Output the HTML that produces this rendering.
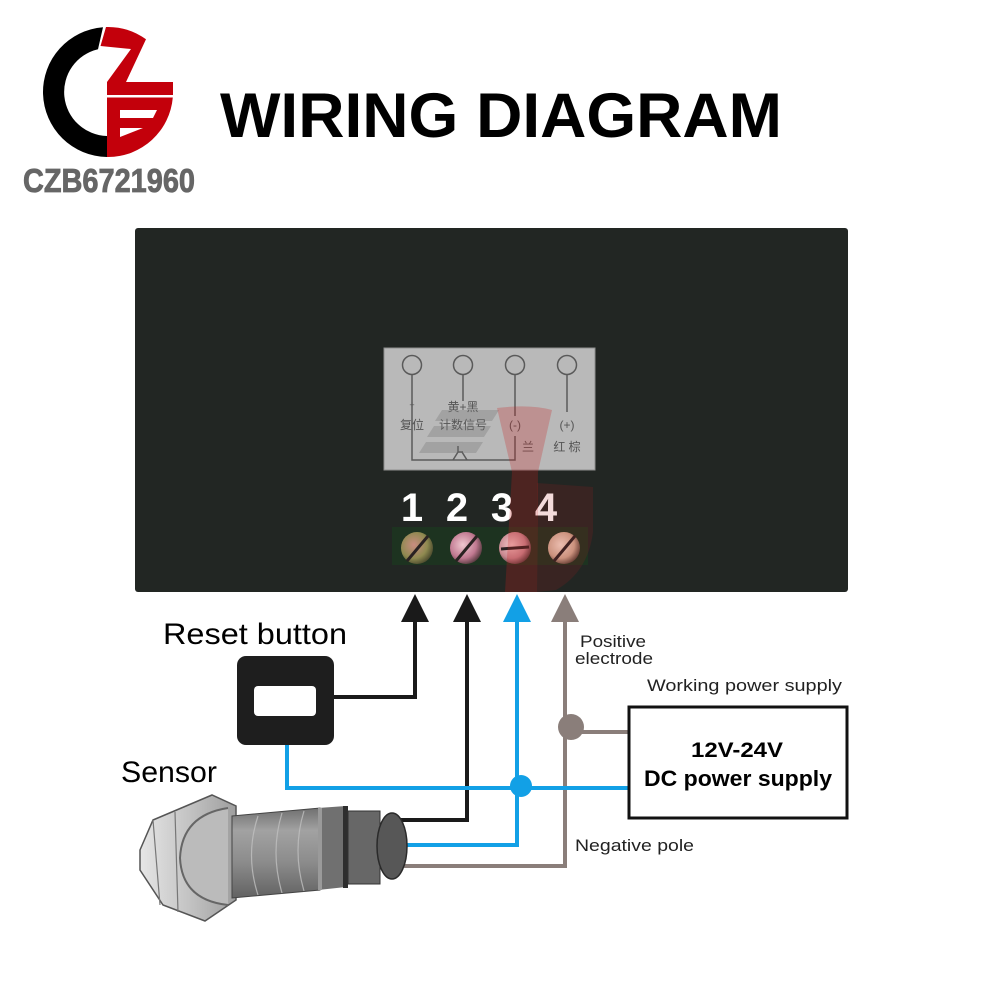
<!DOCTYPE html>
<html>
<head>
<meta charset="utf-8">
<style>
html,body{margin:0;padding:0;background:#fff;}
svg{display:block;}
text{font-family:"Liberation Sans","Noto Sans CJK SC",sans-serif;}
</style>
</head>
<body>
<svg width="1000" height="1000" viewBox="0 0 1000 1000" xmlns="http://www.w3.org/2000/svg">
<defs>
  <linearGradient id="body" x1="0" y1="0" x2="0" y2="1">
    <stop offset="0" stop-color="#707070"/>
    <stop offset="0.25" stop-color="#a2a2a2"/>
    <stop offset="0.6" stop-color="#8c8c8c"/>
    <stop offset="1" stop-color="#626262"/>
  </linearGradient>
  <linearGradient id="nut" x1="0" y1="0" x2="1" y2="0">
    <stop offset="0" stop-color="#e6e6e6"/>
    <stop offset="0.5" stop-color="#c4c4c4"/>
    <stop offset="1" stop-color="#9e9e9e"/>
  </linearGradient>
  <radialGradient id="s1" cx="0.4" cy="0.4" r="0.7">
    <stop offset="0" stop-color="#c98c80"/><stop offset="0.6" stop-color="#8f8a50"/><stop offset="1" stop-color="#3a3a25"/>
  </radialGradient>
  <radialGradient id="s2" cx="0.4" cy="0.4" r="0.7">
    <stop offset="0" stop-color="#f0c8d0"/><stop offset="0.6" stop-color="#c07890"/><stop offset="1" stop-color="#3a2a2a"/>
  </radialGradient>
  <radialGradient id="s3" cx="0.4" cy="0.4" r="0.7">
    <stop offset="0" stop-color="#f4c8c8"/><stop offset="0.6" stop-color="#c88890"/><stop offset="1" stop-color="#3a2a2a"/>
  </radialGradient>
  <radialGradient id="s4" cx="0.4" cy="0.4" r="0.7">
    <stop offset="0" stop-color="#f6dccc"/><stop offset="0.6" stop-color="#d0a890"/><stop offset="1" stop-color="#3a2a22"/>
  </radialGradient>
</defs>

<rect width="1000" height="1000" fill="#fff"/>

<!-- Logo -->
<path d="M103,27.2 A65,65 0 0 0 107,157 L107,136 A44,44 0 0 1 98,49.2 Z" fill="#000"/>
<path d="M106,27 A65,65 0 0 1 146,39.3 L126,82 L107,82 L131,49 L100.5,46 Z" fill="#c3000b"/>
<rect x="107" y="82" width="66" height="13" fill="#c3000b"/>
<path d="M107,97.5 L172.8,97.5 A65,65 0 0 1 108,157 L107,157 Z" fill="#c3000b"/>
<polygon points="120,110 157,110 153,118 120,118" fill="#fff"/>
<polygon points="120,128 143,128 120,137" fill="#fff"/>
<text x="23" y="192" font-size="33" font-weight="bold" fill="#666" stroke="#666" stroke-width="0.8" textLength="172" lengthAdjust="spacingAndGlyphs">CZB6721960</text>

<!-- Title -->
<text x="220" y="137" font-size="63" font-weight="bold" fill="#000" textLength="562" lengthAdjust="spacingAndGlyphs">WIRING DIAGRAM</text>

<!-- Panel -->
<rect x="135" y="228" width="713" height="364" rx="3" fill="#222623"/>

<!-- Grey label -->
<rect x="384" y="348" width="211" height="122" fill="#b9b9b9" stroke="#8e8e8e" stroke-width="1"/>
<g stroke="#5a5a5a" stroke-width="1.5" fill="none">
  <circle cx="412" cy="365" r="9.5"/>
  <circle cx="463" cy="365" r="9.5"/>
  <circle cx="515" cy="365" r="9.5"/>
  <circle cx="567" cy="365" r="9.5"/>
  <path d="M412,374.5 V460 H515 V436"/>
  <path d="M463,374.5 V401"/>
  <path d="M515,374.5 V416"/>
  <path d="M567,374.5 V412"/>
  <path d="M453,460 L458,452 M462,452 L467,460 M458,446 V452 H463"/>
</g>
<g fill="#555" font-size="12" text-anchor="middle">
  <text x="412" y="408" font-size="9">+</text>
  <text x="463" y="411">黄+黑</text>
  <text x="412" y="429">复位</text>
  <text x="463" y="429">计数信号</text>
  <text x="515" y="429">(-)</text>
  <text x="567" y="429">(+)</text>
  <text x="528" y="451">兰</text>
  <text x="567" y="451">红 棕</text>
</g>
<!-- watermark stripes -->
<g fill="rgba(110,110,110,0.3)">
  <polygon points="442,410 499,410 492,421 435,421"/>
  <polygon points="434,426 491,426 484,437 427,437"/>
  <polygon points="426,442 483,442 476,453 419,453"/>
</g>

<!-- Numbers -->
<g fill="#fff" font-size="40" font-weight="bold" text-anchor="middle">
  <text x="412" y="521">1</text>
  <text x="457" y="521">2</text>
  <text x="502" y="521">3</text>
  <text x="546" y="521">4</text>
</g>

<!-- Terminal block -->
<rect x="392" y="527" width="196" height="38" fill="#1d3320"/>
<circle cx="417" cy="548" r="16" fill="url(#s1)"/>
<circle cx="466" cy="548" r="16" fill="url(#s2)"/>
<circle cx="515" cy="548" r="16" fill="url(#s3)"/>
<circle cx="564" cy="548" r="16" fill="url(#s4)"/>
<g stroke="#2a2222" stroke-width="3">
  <line x1="407" y1="561" x2="428" y2="536"/>
  <line x1="456" y1="561" x2="477" y2="536"/>
  <line x1="501" y1="549" x2="529" y2="547"/>
  <line x1="554" y1="561" x2="575" y2="536"/>
</g>

<!-- red watermark -->
<path d="M497,408 Q530,404 552,410 L538,472 L537,592 L505,592 L512,472 Z" fill="rgba(200,30,30,0.26)"/>
<path d="M537,483 L593,487 L593,532 Q588,572 556,590 L537,592 Z" fill="rgba(180,30,30,0.16)"/>

<!-- Arrows & wires -->
<g stroke-width="4" fill="none" stroke-linejoin="miter">
  <path d="M415,618 V697 H334" stroke="#1a1a1a"/>
  <path d="M467,618 V820 H400" stroke="#1a1a1a"/>
  <path d="M517,618 V845 H405" stroke="#12a0e6"/>
  <path d="M565,618 V866 H398" stroke="#8a7e7a"/>
  <path d="M287,745 V788 H629" stroke="#12a0e6"/>
  <path d="M565,732 H629" stroke="#8a7e7a"/>
</g>
<polygon points="415,594 401,622 429,622" fill="#1a1a1a"/>
<polygon points="467,594 453,622 481,622" fill="#1a1a1a"/>
<polygon points="517,594 503,622 531,622" fill="#12a0e6"/>
<polygon points="565,594 551,622 579,622" fill="#8a7e7a"/>
<circle cx="521" cy="786" r="11" fill="#12a0e6"/>
<circle cx="571" cy="727" r="13" fill="#8a7e7a"/>

<!-- Reset button -->
<rect x="237" y="656" width="97" height="89" rx="9" fill="#1e1e1e"/>
<rect x="254" y="686" width="62" height="30" rx="4" fill="#fff"/>

<!-- Power supply -->
<rect x="629" y="707" width="218" height="111" fill="#fff" stroke="#111" stroke-width="3"/>
<text x="737" y="757" font-size="21" font-weight="bold" fill="#000" text-anchor="middle" textLength="92" lengthAdjust="spacingAndGlyphs">12V-24V</text>
<text x="738" y="786" font-size="22" font-weight="bold" fill="#000" text-anchor="middle" textLength="188" lengthAdjust="spacingAndGlyphs">DC power supply</text>

<!-- Labels -->
<text x="163" y="644" font-size="30" fill="#000" textLength="184" lengthAdjust="spacingAndGlyphs">Reset button</text>
<text x="121" y="782" font-size="30" fill="#000" textLength="96" lengthAdjust="spacingAndGlyphs">Sensor</text>
<g fill="#222" font-size="17">
  <text x="580" y="647" textLength="66" lengthAdjust="spacingAndGlyphs">Positive</text>
  <text x="575" y="664" textLength="78" lengthAdjust="spacingAndGlyphs">electrode</text>
  <text x="647" y="691" textLength="195" lengthAdjust="spacingAndGlyphs">Working power supply</text>
  <text x="575" y="851" textLength="119" lengthAdjust="spacingAndGlyphs">Negative pole</text>
</g>

<!-- Sensor -->
<polygon points="140,850 153,820 212,795 236,806 236,900 205,921 163,905 140,870" fill="url(#nut)" stroke="#555" stroke-width="1.5"/>
<path d="M153,820 L160,905 M175,812 L178,912" stroke="#777" stroke-width="1.2" fill="none"/>
<path d="M228,808 Q182,815 180,858 Q182,900 228,905" stroke="#666" stroke-width="2" fill="#bbb"/>
<path d="M232,816 L320,808 L320,890 L232,898 Z" fill="url(#body)" stroke="#444" stroke-width="1"/>
<g stroke="#c0c0c0" stroke-width="1.2" fill="none" opacity="0.8">
  <path d="M258,816 Q245,855 258,895"/>
  <path d="M282,813 Q270,852 282,893"/>
  <path d="M304,811 Q292,850 304,891"/>
</g>
<path d="M318,808 L346,806 L346,887 L318,890 Z" fill="#707070"/>
<rect x="318" y="808" width="4" height="82" fill="#9a9a9a"/>
<rect x="343" y="806" width="5" height="82" fill="#2e2e2e"/>
<path d="M348,811 L380,811 L380,884 L348,884 Z" fill="#676767" stroke="#333" stroke-width="1"/>
<ellipse cx="392" cy="846" rx="15" ry="33" fill="#575757" stroke="#2a2a2a" stroke-width="1.5"/>
</svg>
</body>
</html>
